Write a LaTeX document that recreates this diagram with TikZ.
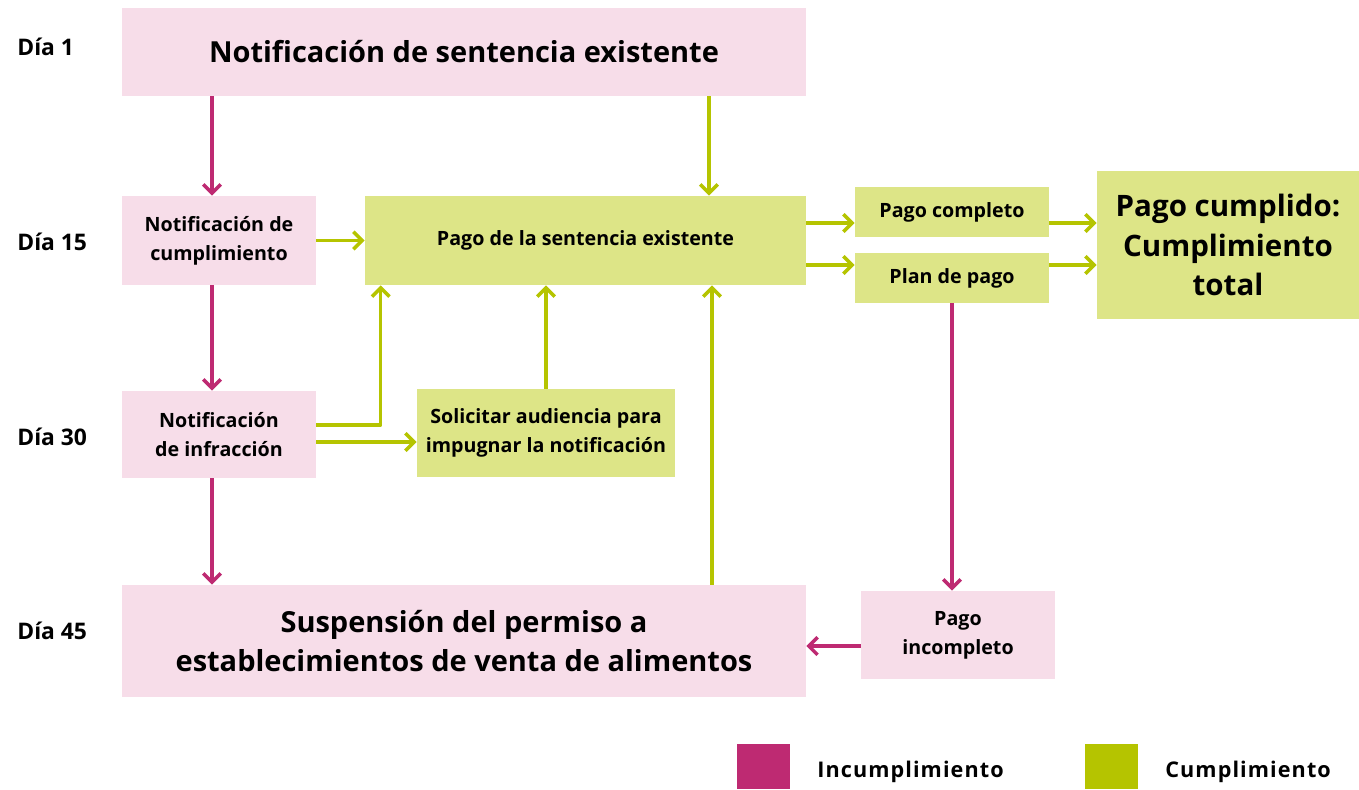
\documentclass[tikz,border=0pt]{standalone}
\usepackage{fontspec}
\setmainfont{Open Sans}
\newfontfamily\spaziata[LetterSpace=5]{Open Sans}
\usetikzlibrary{arrows.meta,calc}
\definecolor{rosa}{HTML}{F7DDE9}
\definecolor{magenta}{HTML}{BE2A72}
\definecolor{lima}{HTML}{DDE587}
\definecolor{verde}{HTML}{B5C400}
\tikzset{
>={Straight Barb[length=5pt,width=10pt]},
caja/.style={inner sep=2pt,align=center,font=\bfseries\fontsize{11.2}{16.5}\selectfont},
caja rosa/.style={caja,fill=rosa},
caja verde/.style={caja,fill=lima},
grande/.style={font=\bfseries\fontsize{16.5}{22.7}\selectfont},
dia/.style={anchor=west,inner sep=0pt,font=\bfseries\fontsize{13}{16}\selectfont},
leyenda/.style={anchor=west,inner sep=0pt,font=\spaziata\bfseries\fontsize{12.3}{15}\selectfont},
flecha roja/.style={->,draw=magenta,line width=2pt,line join=round},
flecha verde/.style={->,draw=verde,line width=2pt,line join=round}}

\begin{document}
\begin{tikzpicture}[x=0.02cm,y=-0.02cm]

\useasboundingbox (0,0) rectangle (1359,789);

\node[caja rosa,grande,minimum width=13.68cm,minimum height=1.76cm] (top) at (464,52) {Notificación de sentencia existente};
\node[caja rosa,minimum width=3.88cm,minimum height=1.78cm] (cumpl) at (219,240.5) {Notificación de\\cumplimiento};
\node[caja verde,minimum width=8.82cm,minimum height=1.78cm] (pago) at (585.5,240.5) {Pago de la sentencia existente};
\node[caja verde,minimum width=3.88cm,minimum height=1cm] (completo) at (952,212) {Pago completo};
\node[caja verde,minimum width=3.88cm,minimum height=1cm] (plan) at (952,278) {Plan de pago};
\node[caja verde,font=\bfseries\fontsize{16.8}{22.4}\selectfont,minimum width=5.24cm,minimum height=2.96cm] (cumplido) at (1228,245) {Pago cumplido:\\Cumplimiento\\total};
\node[caja rosa,minimum width=3.88cm,minimum height=1.74cm] (infr) at (219,434.5) {Notificación\\de infracción};
\node[caja verde,minimum width=5.16cm,minimum height=1.76cm] (solic) at (546,433) {Solicitar audiencia para\\impugnar la notificación};
\node[caja rosa,grande,minimum width=13.68cm,minimum height=2.24cm] (susp) at (464,641) {Suspensión del permiso a\\establecimientos de venta de alimentos};
\node[caja rosa,minimum width=3.88cm,minimum height=1.76cm] (incompl) at (958,635) {Pago\\incompleto};

\node[dia] (d1) at (17,47) {Día 1};
\node[dia] (d15) at (17,242) {Día 15};
\node[dia] (d30) at (17,437) {Día 30};
\node[dia] (d45) at (17,631) {Día 45};

% leyenda
\node[fill=magenta,minimum width=1.06cm,minimum height=0.9cm] (lrojo) at (763.5,766.5) {};
\node[fill=verde,minimum width=1.06cm,minimum height=0.9cm] (lverde) at (1111.5,766.5) {};
\node[leyenda] (tinc) at (817,772) {Incumplimiento};
\node[leyenda] (tcum) at (1165,772) {Cumplimiento};

% incumplimiento
\draw[flecha roja] ([xshift=-0.14cm]cumpl.north |- top.south) -- ([xshift=-0.14cm]cumpl.north);
\draw[flecha roja] ([xshift=-0.14cm]cumpl.south) -- ([xshift=-0.14cm]infr.north);
\draw[flecha roja] ([xshift=-0.14cm]infr.south) -- ([xshift=-0.14cm]infr.south |- susp.north);
\draw[flecha roja] (plan.south) -- (plan.south |- incompl.north);
\draw[flecha roja] ([yshift=-0.22cm]incompl.west) -- ([yshift=-0.22cm]incompl.west -| susp.east);

% cumplimiento
\draw[flecha verde] ([xshift=4.9cm]top.south) -- ([xshift=4.9cm]top.south |- pago.north);
\draw[flecha verde] (cumpl.east) -- (pago.west);
\draw[flecha verde] ([yshift=0.19cm]infr.east) -| ([xshift=0.32cm]pago.south west);
\draw[flecha verde] ([yshift=-0.15cm]infr.east) -- ([yshift=-0.15cm]infr.east -| solic.west);
\draw[flecha verde] (solic.north) -- (solic.north |- pago.south);
\draw[flecha verde] ([xshift=4.96cm]susp.north) -- ([xshift=4.96cm]susp.north |- pago.south);
\draw[flecha verde] ([yshift=-0.22cm]completo.west -| pago.east) -- ([yshift=-0.22cm]completo.west);
\draw[flecha verde] ([yshift=0.26cm]plan.west -| pago.east) -- ([yshift=0.26cm]plan.west);
\draw[flecha verde] ([yshift=-0.22cm]completo.east) -- ([yshift=-0.22cm]completo.east -| cumplido.west);
\draw[flecha verde] ([yshift=0.26cm]plan.east) -- ([yshift=0.26cm]plan.east -| cumplido.west);

\end{tikzpicture}
\end{document}
